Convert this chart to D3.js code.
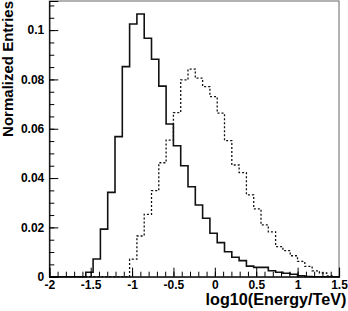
<!DOCTYPE html>
<html>
<head>
<meta charset="utf-8">
<script src="https://cdn.jsdelivr.net/npm/d3@7"></script>
<style>
  body { margin: 0; background: #fff; }
  svg { display: block; }
  text { font-family: "Liberation Sans", Arial, sans-serif; font-weight: bold; fill: #000; }
</style>
</head>
<body>
<div id="chart"></div>
<script>
// histogram binning (log10 energy)
var binStart = -2;
var binWidth = 0.0882;

// solid histogram
var solidValues = [0, 0, 0, 0, 0, 0.0018, 0.0072, 0.0193, 0.0342, 0.0568,
  0.0852, 0.1025, 0.1065, 0.0967, 0.0882, 0.0773, 0.0619, 0.0531, 0.0450, 0.0365,
  0.0291, 0.0237, 0.0176, 0.0138, 0.0101, 0.0079, 0.0065, 0.0043, 0.0038, 0.0038,
  0.0024, 0.0018, 0.0014, 0.0010, 0.0004, 0.0001, 0, 0, 0, 0];

// dotted histogram
var dottedValues = [0, 0, 0, 0, 0, 0, 0, 0, 0, 0,
  0, 0.0071, 0.0165, 0.0253, 0.0349, 0.0462, 0.0554, 0.0665, 0.0798, 0.0842,
  0.0805, 0.0771, 0.0730, 0.0663, 0.0552, 0.0453, 0.0422, 0.0332, 0.0275, 0.0210,
  0.0182, 0.0122, 0.0106, 0.0085, 0.0062, 0.0042, 0.0024, 0.0015, 0.0003, 0];

var xTicks = [-2, -1.5, -1, -0.5, 0, 0.5, 1, 1.5];
var xTickLabels = ["-2", "-1.5", "-1", "-0.5", "0", "0.5", "1", "1.5"];
var yTicks = [0, 0.02, 0.04, 0.06, 0.08, 0.1];
var yTickLabels = ["0", "0.02", "0.04", "0.06", "0.08", "0.1"];

var xTitle = "log10(Energy/TeV)";
var yTitle = "Normalized Entries";

var margin = {top: 1, right: 9, bottom: 34.3, left: 49.3},
    width = 348 - margin.left - margin.right,
    height = 311 - margin.top - margin.bottom;

var svg = d3.select("#chart")
  .append("svg")
    .attr("width", 348)
    .attr("height", 311)
  .append("g")
    .attr("transform", "translate(" + margin.left + "," + margin.top + ")");

var x = d3.scaleLinear().domain([-2, 1.5]).range([0, width]);
var y = d3.scaleLinear().domain([0, 0.1118]).range([height, 0]);

svg.append("clipPath").attr("id", "plotclip")
  .append("rect").attr("width", width).attr("height", height + 1);

// frame
svg.append("rect")
  .attr("width", width)
  .attr("height", height)
  .attr("fill", "none")
  .attr("stroke", "#666")
  .attr("stroke-width", 1);

// turn bin values into step points
function steps(values) {
  var pts = values.map(function(v, i) { return {x: binStart + i * binWidth, y: v}; });
  pts.push({x: binStart + values.length * binWidth, y: values[values.length - 1]});
  return pts;
}

var line = d3.line()
  .x(function(d) { return x(d.x); })
  .y(function(d) { return y(d.y); })
  .curve(d3.curveStepAfter);

var plot = svg.append("g").attr("clip-path", "url(#plotclip)");

plot.append("path")
  .datum(steps(dottedValues))
  .attr("d", line)
  .attr("fill", "none")
  .attr("stroke", "#111")
  .attr("stroke-width", 1.3)
  .attr("stroke-dasharray", "2,2");

plot.append("path")
  .datum(steps(solidValues))
  .attr("d", line)
  .attr("fill", "none")
  .attr("stroke", "#111")
  .attr("stroke-width", 1.6);

// minor ticks
svg.append("g")
  .attr("transform", "translate(0," + height + ")")
  .call(d3.axisBottom(x).tickValues(d3.range(-2, 1.5001, 0.1)).tickSize(-5).tickFormat(""))
  .call(function(g) { g.select(".domain").remove(); });
svg.append("g")
  .call(d3.axisLeft(y).tickValues(d3.range(0, 0.1101, 0.005)).tickSize(-5).tickFormat(""))
  .call(function(g) { g.select(".domain").remove(); });

// major ticks + labels
var xAxis = svg.append("g")
  .attr("transform", "translate(0," + height + ")")
  .call(d3.axisBottom(x).tickValues(xTicks).tickSize(-9).tickPadding(4)
    .tickFormat(function(d, i) { return xTickLabels[i]; }));
var yAxis = svg.append("g")
  .call(d3.axisLeft(y).tickValues(yTicks).tickSize(-9).tickPadding(5)
    .tickFormat(function(d, i) { return yTickLabels[i]; }));

[xAxis, yAxis].forEach(function(g) {
  g.selectAll("text").style("font-size", "12px").attr("fill", "#000");
  g.select(".domain").attr("stroke", "#000").attr("stroke-width", 1.2);
  g.selectAll(".tick line").attr("stroke", "#000");
});

// titles
svg.append("text")
  .attr("x", width + 7.5)
  .attr("y", height + 28)
  .attr("text-anchor", "end")
  .style("font-size", "16.2px")
  .text(xTitle);

svg.append("text")
  .attr("transform", "translate(" + (12.5 - margin.left) + ",0) rotate(-90)")
  .attr("text-anchor", "end")
  .style("font-size", "15px")
  .text(yTitle);
</script>
</body>
</html>
